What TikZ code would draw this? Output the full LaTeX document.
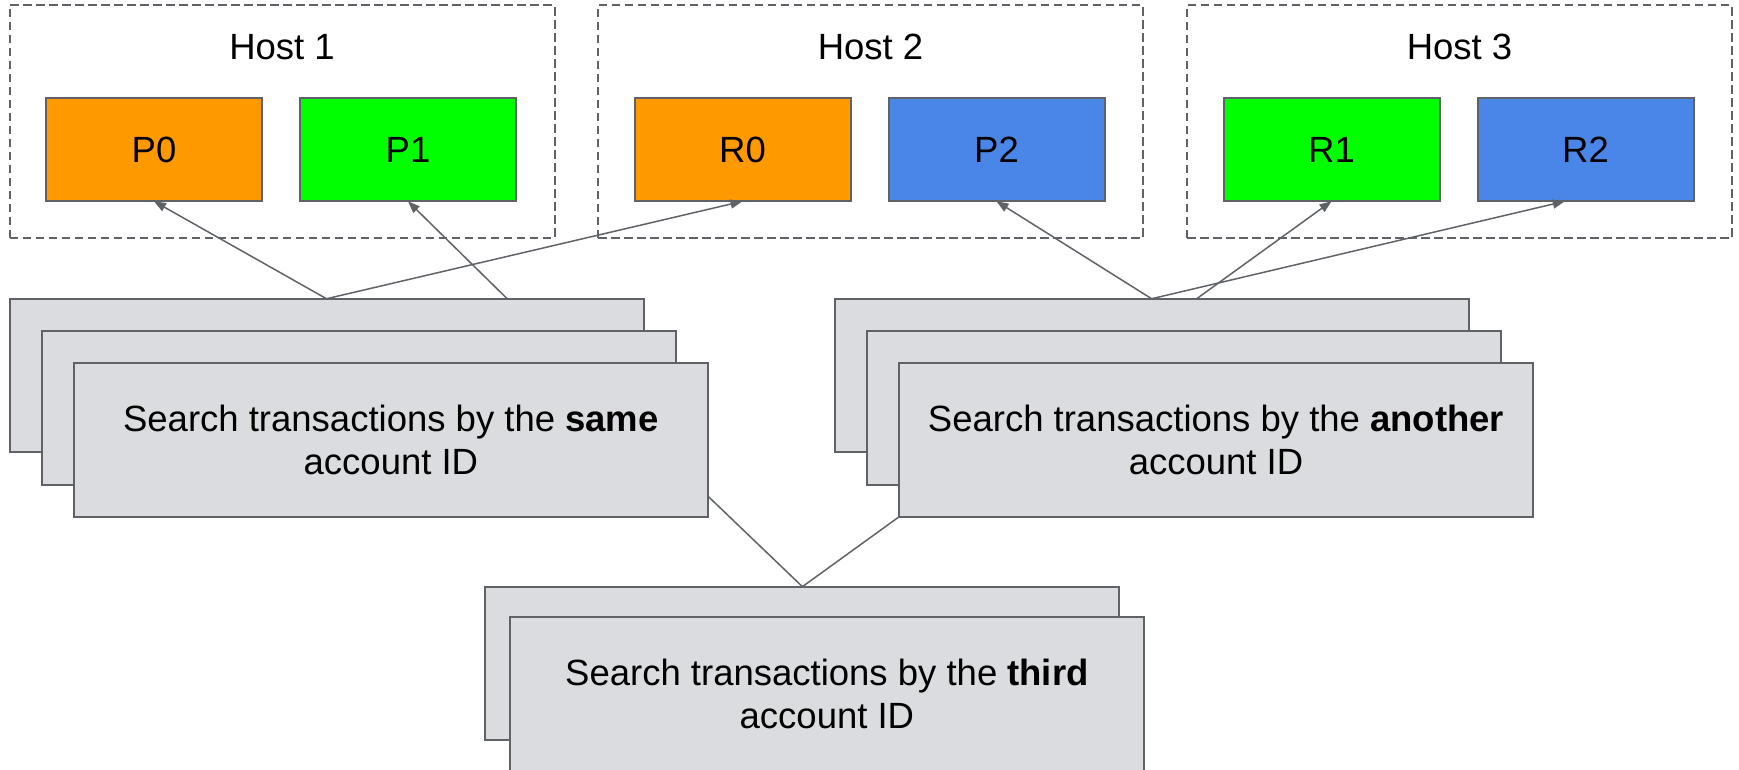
\documentclass[tikz,border=0pt]{standalone}
\usepackage{fontspec}
\setmainfont{Liberation Sans}
\usetikzlibrary{arrows.meta,calc}
\definecolor{edgegrey}{HTML}{5F6368}
\definecolor{cardgrey}{HTML}{DBDCDF}
\definecolor{shardorange}{HTML}{FF9900}
\definecolor{shardgreen}{HTML}{00FF00}
\definecolor{shardblue}{HTML}{4A86E8}
\begin{document}
\begin{tikzpicture}[x=1pt,y=-1pt,
  every node/.style={inner sep=0pt,outer sep=0pt,font=\fontsize{36.5}{43}\selectfont},
  hostbox/.style={draw=edgegrey,dash pattern=on 8.5pt off 4.5pt,line width=2pt,
    minimum width=545pt,minimum height=232.4pt},
  shard/.style={draw=edgegrey,line width=2pt,minimum width=216pt,minimum height=103.3pt},
  card/.style={draw=edgegrey,fill=cardgrey,line width=2pt,
    minimum width=634pt,minimum height=153.5pt,align=center},
  link/.style={draw=edgegrey,line width=1.5pt},
  feed/.style={link,-{Triangle[length=12pt,width=9pt]}},
]
\useasboundingbox (0,0) rectangle (1739,770);

% hosts
\node[hostbox] (h1) at (282,121.5) {};
\node[hostbox] (h2) at (870.5,121.5) {};
\node[hostbox] (h3) at (1459.5,121.5) {};
\node[anchor=base] (h1lab) at (282,60) {Host 1};
\node[anchor=base] (h2lab) at (870.5,60) {Host 2};
\node[anchor=base] (h3lab) at (1459.5,60) {Host 3};

% partitions and replicas
\node[shard,fill=shardorange] (p0) at (154,149.65) {P0};
\node[shard,fill=shardgreen]  (p1) at (408,149.65) {P1};
\node[shard,fill=shardorange] (r0) at (742.5,149.65) {R0};
\node[shard,fill=shardblue]   (p2) at (996.5,149.65) {P2};
\node[shard,fill=shardgreen]  (r1) at (1331.5,149.65) {R1};
\node[shard,fill=shardblue]   (r2) at (1585.5,149.65) {R2};

% stacked query cards
\node[card] (a1) at (326.5,375.5) {};
\node[card] (b1) at (358.7,407.8) {};
\node[card] (c1) at (390.9,440.1) {Search transactions by the \textbf{same}\\account ID};

\node[card] (a2) at (1151.6,375.5) {};
\node[card] (b2) at (1183.8,407.8) {};
\node[card] (c2) at (1216,440.1) {Search transactions by the \textbf{another}\\account ID};

\node[card] (a3) at (802.4,663.4) {};
\node[card] (b3) at (826.9,694.2) {Search transactions by the \textbf{third}\\account ID};

% routing of the first query
\coordinate (a1r) at ($(a1.north west)!0.785!(a1.north east)$);
\draw[feed] (a1.north) -- (p0.south);
\draw[feed] (a1.north) -- (r0.south);
\draw[feed] (a1r) -- (p1.south);

% routing of the second query
\coordinate (a2r) at ($(a2.north west)!0.571!(a2.north east)$);
\coordinate (r2in) at ($(r2.south west)!0.404!(r2.south east)$);
\draw[feed] (a2.north) -- (p2.south);
\draw[feed] (a2.north) -- (r2in);
\draw[feed] (a2r) -- (r1.south);

% third query joins the other two
\coordinate (c1in) at ($(c1.north east)!0.865!(c1.south east)$);
\draw[link] (a3.north) -- (c1in);
\draw[link] (a3.north) -- (c2.south west);
\end{tikzpicture}
\end{document}
